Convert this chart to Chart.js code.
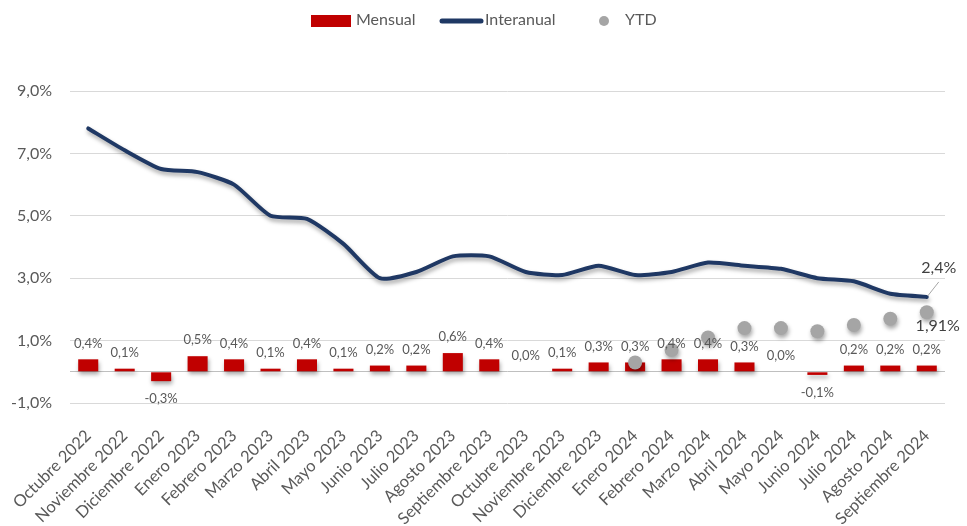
<!DOCTYPE html>
<html>
<head>
<meta charset="utf-8">
<script src="https://cdn.jsdelivr.net/npm/chart.js@4.4.0/dist/chart.umd.min.js"></script>
<style>
  html, body { margin: 0; padding: 0; background: #fff; }
  #wrap { width: 967px; height: 526px; position: relative; }
</style>
</head>
<body>
<div id="wrap"><canvas id="chart"></canvas></div>
<script>
// Data
const months = [
  'Octubre 2022', 'Noviembre 2022', 'Diciembre 2022', 'Enero 2023', 'Febrero 2023', 'Marzo 2023',
  'Abril 2023', 'Mayo 2023', 'Junio 2023', 'Julio 2023', 'Agosto 2023', 'Septiembre 2023',
  'Octubre 2023', 'Noviembre 2023', 'Diciembre 2023', 'Enero 2024', 'Febrero 2024', 'Marzo 2024',
  'Abril 2024', 'Mayo 2024', 'Junio 2024', 'Julio 2024', 'Agosto 2024', 'Septiembre 2024'
];
const mensual = [0.4, 0.1, -0.3, 0.5, 0.4, 0.1, 0.4, 0.1, 0.2, 0.2, 0.6, 0.4,
                 0.0, 0.1, 0.3, 0.3, 0.4, 0.4, 0.3, 0.0, -0.1, 0.2, 0.2, 0.2];
const interanual = [7.8, 7.1, 6.5, 6.4, 6.0, 5.0, 4.9, 4.1, 3.0, 3.2, 3.7, 3.7,
                    3.2, 3.1, 3.4, 3.1, 3.2, 3.5, 3.4, 3.3, 3.0, 2.9, 2.5, 2.4];
const ytd = [null, null, null, null, null, null, null, null, null, null, null, null,
             null, null, null, 0.3, 0.7, 1.1, 1.4, 1.4, 1.3, 1.5, 1.7, 1.91];
const yTicks = [-1, 0, 1, 3, 5, 7, 9];

// Colours
const RED = '#C00000';
const NAVY = '#1F3864';
const GREY_DOT = '#A5A5A5';
const TEXT = '#595959';
const FONT = "Lato, 'Open Sans', sans-serif";

const fmt = (v, d) => v.toFixed(d).replace('.', ',') + '%';

// Excel-like soft drop shadow under every series
const shadowPlugin = {
  id: 'shadow',
  beforeDatasetDraw(chart) {
    const ctx = chart.ctx;
    ctx.save();
    ctx.shadowColor = 'rgba(0, 0, 0, 0.35)';
    ctx.shadowBlur = 4;
    ctx.shadowOffsetX = 1;
    ctx.shadowOffsetY = 3;
  },
  afterDatasetDraw(chart) {
    chart.ctx.restore();
  }
};

// Value labels
const labelPlugin = {
  id: 'valueLabels',
  afterDatasetsDraw(chart) {
    const ctx = chart.ctx;
    ctx.save();
    ctx.fillStyle = TEXT;
    ctx.textAlign = 'center';
    ctx.textBaseline = 'middle';
    ctx.font = `13px ${FONT}`;

    const barMeta = chart.getDatasetMeta(0);
    barMeta.data.forEach((el, i) => {
      const v = mensual[i];
      const y = v >= 0 ? el.y - 16 : el.y + 18;
      ctx.fillText(fmt(v, 1), el.x, y);
    });

    // last Interanual value with leader line
    ctx.font = `16px ${FONT}`;
    const lineMeta = chart.getDatasetMeta(1);
    const lp = lineMeta.data[lineMeta.data.length - 1];
    ctx.strokeStyle = '#A6A6A6';
    ctx.lineWidth = 1;
    ctx.beginPath();
    ctx.moveTo(lp.x + 12, lp.y - 15);
    ctx.lineTo(lp.x + 1, lp.y - 1);
    ctx.stroke();
    ctx.fillStyle = '#404040';
    ctx.fillText(fmt(interanual[interanual.length - 1], 1), lp.x + 12, lp.y - 29);

    // last YTD value
    const ytdMeta = chart.getDatasetMeta(2);
    const yp = ytdMeta.data[ytdMeta.data.length - 1];
    ctx.fillText(fmt(ytd[ytd.length - 1], 2), yp.x + 11, yp.y + 14);
    ctx.restore();
  }
};

// Legend drawn in the top band
const legendPlugin = {
  id: 'topLegend',
  afterDraw(chart) {
    const ctx = chart.ctx;
    ctx.save();
    ctx.font = `16px ${FONT}`;
    ctx.fillStyle = TEXT;
    ctx.textBaseline = 'middle';
    ctx.textAlign = 'left';

    ctx.fillStyle = RED;
    ctx.fillRect(311, 15, 40, 12);
    ctx.fillStyle = TEXT;
    ctx.fillText('Mensual', 356, 20);

    ctx.strokeStyle = NAVY;
    ctx.lineWidth = 5;
    ctx.lineCap = 'round';
    ctx.beginPath();
    ctx.moveTo(442, 21);
    ctx.lineTo(481, 21);
    ctx.stroke();
    ctx.fillText('Interanual', 485, 20);

    ctx.fillStyle = GREY_DOT;
    ctx.beginPath();
    ctx.arc(604, 21, 5, 0, Math.PI * 2);
    ctx.fill();
    ctx.fillStyle = TEXT;
    ctx.fillText('YTD', 625, 20);
    ctx.restore();
  }
};

const ctx = document.getElementById('chart').getContext('2d');
new Chart(ctx, {
  data: {
    labels: months,
    datasets: [
      {
        type: 'bar',
        label: 'Mensual',
        data: mensual,
        backgroundColor: RED,
        barPercentage: 0.55,
        categoryPercentage: 1,
        order: 3
      },
      {
        type: 'line',
        label: 'Interanual',
        data: interanual,
        borderColor: NAVY,
        borderWidth: 4,
        tension: 0.2,
        pointRadius: 0,
        borderCapStyle: 'round',
        fill: false,
        order: 1
      },
      {
        type: 'line',
        label: 'YTD',
        data: ytd,
        showLine: false,
        pointRadius: 7,
        pointBackgroundColor: GREY_DOT,
        pointBorderWidth: 0,
        order: 2
      }
    ]
  },
  options: {
    responsive: true,
    maintainAspectRatio: false,
    animation: false,
    layout: { padding: { top: 91, right: 22, left: 0, bottom: 0 } },
    plugins: {
      legend: { display: false },
      tooltip: { enabled: false }
    },
    scales: {
      x: {
        grid: { display: false },
        border: { display: false },
        afterFit: scale => { scale.paddingLeft = 0; scale.height = 123; },
        ticks: {
          color: TEXT,
          font: { family: FONT, size: 16.5 },
          maxRotation: 45,
          minRotation: 45,
          autoSkip: false,
          padding: 15
        }
      },
      y: {
        min: -1,
        max: 9,
        afterBuildTicks: axis => { axis.ticks = yTicks.map(v => ({ value: v })); },
        afterFit: scale => { scale.width = 70; },
        grid: {
          color: c => (c.tick && c.tick.value === 0 ? '#BFBFBF' : '#D9D9D9'),
          lineWidth: 1,
          drawTicks: false
        },
        border: { display: false },
        ticks: {
          color: TEXT,
          font: { family: FONT, size: 16 },
          padding: 18,
          callback: v => (v === 0 ? '' : fmt(v, 1))
        }
      }
    }
  },
  plugins: [shadowPlugin, labelPlugin, legendPlugin]
});
</script>
</body>
</html>
